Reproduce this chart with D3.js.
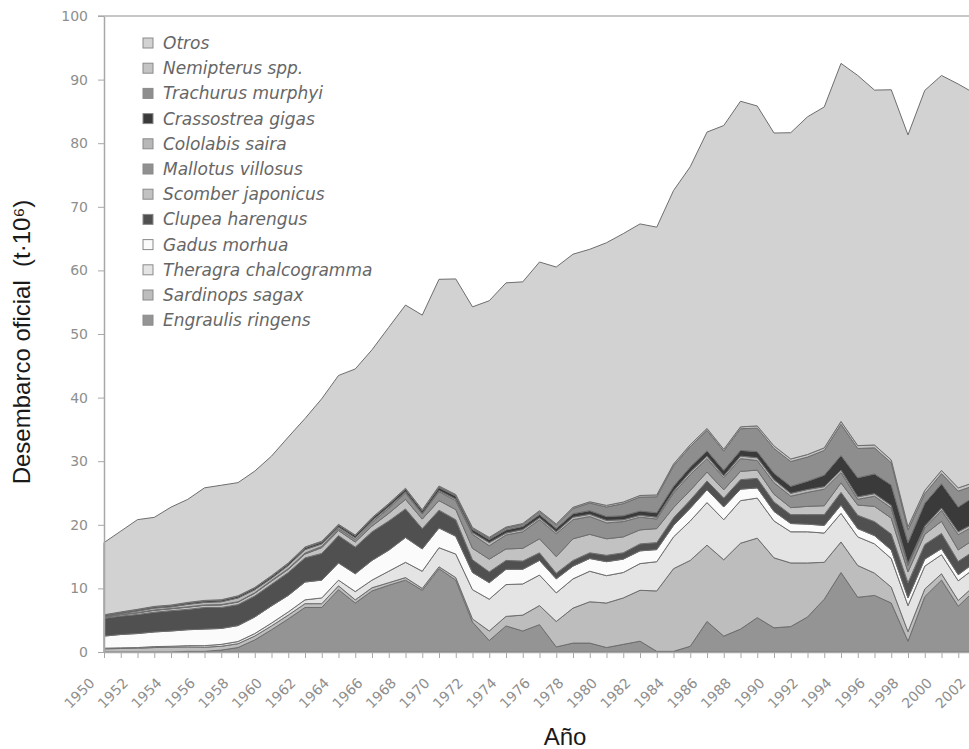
<!DOCTYPE html>
<html>
<head>
<meta charset="utf-8">
<script src="https://cdn.jsdelivr.net/npm/d3@7"></script>
<style>
body { margin: 0; background: #fff; }
</style>
</head>
<body>
<svg id="chart" width="969" height="749"></svg>
<script>
// years on the x axis
const years = d3.range(1950, 2003);

// landings per species, million t (1950 ... 2002)
const engraulis = [0,0,0,0,0, 0.1,0.1,0.3,0.7,1.9, 3.5,5.2,7.0,7.0,9.8, 7.7,9.6,10.5,11.3,9.7,
	13.1,11.3,4.7,1.8,4.1, 3.3,4.3,0.8,1.4,1.4, 0.7,1.2,1.7,0.1,0.1, 0.9,4.8,2.5,3.6,5.4,
	3.8,4.0,5.5,8.3,12.5, 8.6,8.9,7.7,1.7,8.7, 11.3,7.2,9.7];
const sardinops = [0.5,0.55,0.6,0.7,0.75, 0.7,0.65,0.6,0.6,0.6, 0.6,0.6,0.6,0.6,0.6, 0.5,0.5,0.4,0.4,0.3,
	0.3,0.4,0.5,1.5,1.5, 2.5,3.0,4.0,5.5,6.5, 7.0,7.3,8.0,9.5,13.0, 13.5,12.0,12.0,13.5,12.5,
	11.0,10.0,8.5,5.8,4.8, 5.0,3.5,2.5,1.5,1.2, 1.0,0.9,0.8];
const theragra = [0.1,0.1,0.1,0.15,0.15, 0.2,0.25,0.3,0.35,0.4, 0.45,0.5,0.6,0.9,0.9, 1.3,1.2,1.8,2.4,2.7,
	3.0,3.7,4.6,5.0,5.0, 4.9,4.8,4.5,4.6,4.8, 4.3,4.0,4.2,4.6,5.0, 6.2,6.7,6.3,6.7,6.3,
	5.8,4.9,4.9,4.6,4.5, 4.5,4.6,4.5,4.1,3.6, 3.0,3.1,2.7];
const gadus = [1.9,2.1,2.2,2.3,2.4, 2.5,2.6,2.5,2.5,2.6, 2.7,2.6,2.8,2.8,2.7, 2.8,3.1,3.3,3.9,3.5,
	3.1,2.8,2.7,2.6,2.4, 2.3,2.3,2.2,2.0,2.0, 2.2,2.1,2.0,1.9,1.8, 2.0,2.0,2.0,1.8,1.6,
	1.5,1.3,1.2,1.2,1.3, 1.3,1.3,1.35,1.2,1.1, 0.95,0.95,0.9];
const clupea = [2.8,2.9,3.0,3.1,3.2, 3.2,3.4,3.3,3.3,3.3, 3.4,3.6,3.8,4.2,4.3, 4.2,4.5,4.6,4.5,3.2,
	2.8,2.6,2.0,1.7,1.4, 1.3,1.2,0.9,0.9,0.9, 1.0,1.0,1.1,1.1,1.2, 1.3,1.4,1.4,1.5,1.5,
	1.5,1.4,1.5,1.7,2.0, 2.1,2.2,2.5,2.4,2.3, 2.4,2.1,1.9];
const scomber = [0.15,0.2,0.25,0.3,0.3, 0.35,0.35,0.4,0.4,0.45, 0.5,0.5,0.6,0.9,0.8, 0.8,0.9,1.2,1.5,1.5,
	1.5,1.6,1.8,2.0,1.8, 2.0,2.2,2.6,3.4,2.9, 2.6,2.5,2.2,2.2,1.6, 1.5,1.4,1.3,1.3,1.3,
	1.2,1.1,1.3,1.4,1.5, 1.6,2.4,2.5,1.7,1.6, 1.9,1.8,1.8];
const mallotus = [0.05,0.05,0.05,0.05,0.05, 0.05,0.05,0.05,0.05,0.05, 0.1,0.1,0.15,0.2,0.3, 0.4,0.6,0.8,1.0,0.8,
	1.4,1.4,2.2,2.1,2.2, 2.6,3.0,3.6,3.0,2.8, 2.5,2.4,2.0,1.5,2.3, 2.5,2.1,1.9,2.0,1.5,
	1.8,1.8,2.2,2.6,1.6, 0.9,1.6,1.6,1.0,1.0, 1.7,2.4,2.1];
const cololabis = [0.1,0.15,0.25,0.3,0.25, 0.4,0.4,0.45,0.6,0.5, 0.35,0.5,0.55,0.4,0.25, 0.25,0.25,0.25,0.2,0.1,
	0.2,0.25,0.3,0.5,0.3, 0.35,0.3,0.3,0.4,0.35, 0.4,0.3,0.3,0.3,0.3, 0.4,0.4,0.3,0.4,0.45,
	0.5,0.45,0.45,0.4,0.4, 0.4,0.4,0.4,0.3,0.3, 0.4,0.45,0.4];
const crassostrea = [0.2,0.2,0.21,0.22,0.23, 0.25,0.26,0.27,0.28,0.29, 0.3,0.3,0.31,0.32,0.33, 0.35,0.37,0.38,0.4,0.42,
	0.45,0.46,0.47,0.48,0.49, 0.5,0.52,0.53,0.55,0.57, 0.6,0.63,0.66,0.7,0.75, 0.8,0.85,0.88,0.9,0.95,
	1.0,1.1,1.3,1.8,2.3, 3.0,3.1,3.2,3.3,3.6, 3.8,3.9,4.2];
const trachurus = [0,0,0,0,0, 0,0,0,0,0, 0,0,0,0,0, 0,0,0.02,0.05,0.05,
	0.1,0.1,0.15,0.2,0.3, 0.3,0.4,0.5,0.8,1.2, 1.5,1.9,2.2,2.5,3.2, 3.2,3.2,3.0,3.4,3.7,
	3.9,3.9,3.8,3.9,4.9, 4.6,4.1,3.5,2.0,1.5, 1.6,2.5,1.7];
const nemipterus = [0.05,0.05,0.05,0.05,0.05, 0.05,0.05,0.05,0.05,0.05, 0.1,0.1,0.1,0.1,0.1, 0.1,0.1,0.1,0.1,0.1,
	0.15,0.15,0.15,0.15,0.15, 0.15,0.2,0.2,0.2,0.2, 0.25,0.25,0.25,0.3,0.3, 0.3,0.3,0.3,0.3,0.35,
	0.4,0.4,0.4,0.4,0.45, 0.45,0.45,0.45,0.5,0.5, 0.5,0.5,0.5];
const otros = [11.35,12.7,14.1,14.0,15.4, 16.2,17.7,18.0,17.8,18.3, 18.8,19.8,20.2,22.4,23.4, 26.1,26.4,27.7,28.8,30.6,
	32.5,33.9,34.7,37.2,38.4, 38.0,39.1,40.4,39.8,39.7, 41.3,42.2,42.7,42.1,43.0, 43.7,46.6,50.9,51.2,50.3,
	49.2,51.3,53.1,53.6,56.3, 58.2,55.8,58.2,61.6,62.9, 62.1,63.5,61.1];

// stacking order, bottom to top
const seriesNames = ["Engraulis ringens", "Sardinops sagax", "Theragra chalcogramma", "Gadus morhua",
	"Clupea harengus", "Scomber japonicus", "Mallotus villosus", "Cololabis saira",
	"Crassostrea gigas", "Trachurus murphyi", "Nemipterus spp.", "Otros"];
const seriesValues = [engraulis, sardinops, theragra, gadus, clupea, scomber, mallotus,
	cololabis, crassostrea, trachurus, nemipterus, otros];
const seriesColors = ["#949494", "#bdbdbd", "#e4e4e4", "#fbfbfb", "#505050", "#c2c2c2",
	"#909090", "#b8b8b8", "#3a3a3a", "#8e8e8e", "#c4c4c4", "#d2d2d2"];

const yTicks = [0, 10, 20, 30, 40, 50, 60, 70, 80, 90, 100];

// table for d3.stack
let rows = years.map(function(yr, i) {
	let row = { year: yr };
	seriesNames.forEach(function(name, k) { row[name] = seriesValues[k][i]; });
	return row;
});

let svg = d3.select("#chart");
let plotLeft = 104, plotRight = 975, plotTop = 16, plotBottom = 652;

let x = d3.scalePoint().domain(years).range([plotLeft, plotRight]);
let y = d3.scaleLinear().domain([0, 100]).range([plotBottom, plotTop]);

let stacked = d3.stack().keys(seriesNames)(rows);

let area = d3.area()
	.x(function(d) { return x(d.data.year); })
	.y0(function(d) { return y(d[0]); })
	.y1(function(d) { return y(d[1]); });

svg.append("g")
	.selectAll("path")
	.data(stacked)
	.enter().append("path")
	.attr("d", area)
	.attr("fill", function(d, i) { return seriesColors[i]; })
	.attr("stroke", "#6e6e6e")
	.attr("stroke-width", 1)
	.attr("stroke-linejoin", "round");

// plot frame top line
svg.append("line")
	.attr("x1", plotLeft - 6).attr("x2", 969)
	.attr("y1", y(100)).attr("y2", y(100))
	.attr("stroke", "#b4b4b4")
	.attr("stroke-width", 1.5);

// y axis
let yAxis = svg.append("g")
	.attr("transform", "translate(" + plotLeft + ",0)")
	.call(d3.axisLeft(y).tickValues(yTicks).tickSizeInner(6).tickSizeOuter(0).tickPadding(10));
yAxis.select(".domain").attr("stroke", "#a8a8a8").attr("stroke-width", 1.5);
yAxis.selectAll(".tick line").attr("stroke", "#a8a8a8");
yAxis.selectAll(".tick text")
	.attr("fill", "#8e8e8e")
	.style("font", "14px 'DejaVu Sans'");

// x axis
let xAxis = svg.append("g")
	.attr("transform", "translate(0," + plotBottom + ")")
	.call(d3.axisBottom(x)
		.tickFormat(function(d) { return d % 2 == 0 ? d : ""; })
		.tickSizeInner(6).tickSizeOuter(0));
xAxis.select(".domain").attr("stroke", "#a8a8a8").attr("stroke-width", 1.5);
xAxis.selectAll(".tick line").attr("stroke", "#a8a8a8");
xAxis.selectAll(".tick text")
	.attr("x", 0).attr("y", 0).attr("dy", 0)
	.attr("transform", "translate(-9,32) rotate(-45)")
	.attr("text-anchor", "end")
	.attr("fill", "#8e8e8e")
	.style("font", "14px 'DejaVu Sans'");

// legend (reverse of stack order)
let legendNames = seriesNames.slice().reverse();
let legendColors = seriesColors.slice().reverse();
let legend = svg.append("g").attr("transform", "translate(143,43)");
legendNames.forEach(function(name, i) {
	let g = legend.append("g").attr("transform", "translate(0," + (i * 25.2) + ")");
	g.append("rect")
		.attr("x", 0).attr("y", -5)
		.attr("width", 10).attr("height", 10)
		.attr("fill", legendColors[i])
		.attr("stroke", "#8a8a8a")
		.attr("stroke-width", 1);
	g.append("text")
		.attr("x", 20).attr("y", 6)
		.attr("fill", "#666")
		.style("font", "italic 17px 'DejaVu Sans'")
		.text(name);
});

// axis titles
svg.append("text")
	.attr("x", 565)
	.attr("y", 745)
	.attr("text-anchor", "middle")
	.style("font", "24px 'Liberation Sans'")
	.attr("fill", "#1a1a1a")
	.text("Año");

svg.append("text")
	.attr("transform", "translate(30,342) rotate(-90)")
	.attr("text-anchor", "middle")
	.style("font", "24px 'Liberation Sans'")
	.style("white-space", "pre")
	.attr("fill", "#1a1a1a")
	.text("Desembarco oficial  (t·10⁶)");
</script>
</body>
</html>
